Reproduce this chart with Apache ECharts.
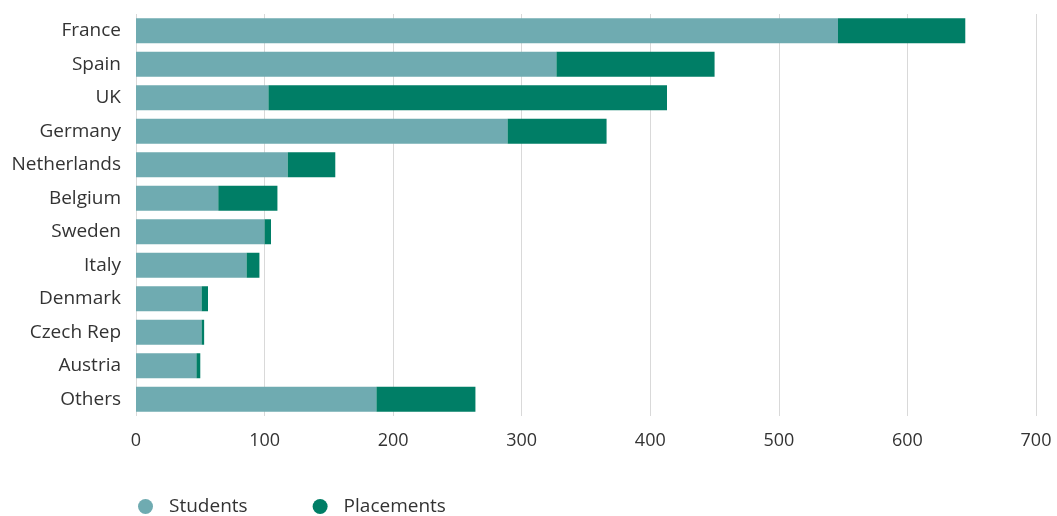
<!DOCTYPE html>
<html><head><meta charset="utf-8">
<script src="https://cdn.jsdelivr.net/npm/echarts@6/dist/echarts.min.js"></script>
<style>html,body{margin:0;padding:0;background:#fff}#c{width:1057px;height:516px}</style>
</head><body><div id="c"></div>
<script>
const categories = ["France","Spain","UK","Germany","Netherlands","Belgium","Sweden","Italy","Denmark","Czech Rep","Austria","Others"];
const students = [546, 327, 103, 289, 118, 64, 100, 86, 51, 51, 47, 187];
const placements = [99, 123, 310, 77, 37, 46, 5, 10, 5, 2, 3, 77];
const xTicks = [0, 100, 200, 300, 400, 500, 600, 700];

const chart = echarts.init(document.getElementById('c'));
const font = '"Open Sans", "Noto Sans", sans-serif';
chart.setOption({
  animation: false,
  textStyle: { fontFamily: font },
  grid: { left: 136, right: 21, top: 14, bottom: 100, containLabel: false },
  legend: {
    left: 133, top: 492, icon: 'circle', itemWidth: 15, itemHeight: 15, itemGap: 65,
    textStyle: { fontSize: 19, color: '#333', fontFamily: font, padding: [0, 0, 0, 11] },
    data: ['Students', 'Placements']
  },
  xAxis: {
    type: 'value', min: xTicks[0], max: xTicks[xTicks.length - 1], interval: 100,
    axisLine: { show: false }, axisTick: { show: false },
    splitLine: { lineStyle: { color: '#d9d9d9', width: 1 } },
    axisLabel: { fontSize: 18, color: '#333', margin: 16, fontFamily: font }
  },
  yAxis: {
    type: 'category', data: categories, inverse: true,
    axisLine: { show: false }, axisTick: { show: false },
    axisLabel: { fontSize: 19, color: '#333', margin: 15, fontFamily: font }
  },
  series: [
    { name: 'Students', type: 'bar', stack: 't', data: students, barWidth: 25, itemStyle: { color: '#6fabb1' } },
    { name: 'Placements', type: 'bar', stack: 't', data: placements, barWidth: 25, itemStyle: { color: '#007e66' } }
  ]
});
</script></body></html>
